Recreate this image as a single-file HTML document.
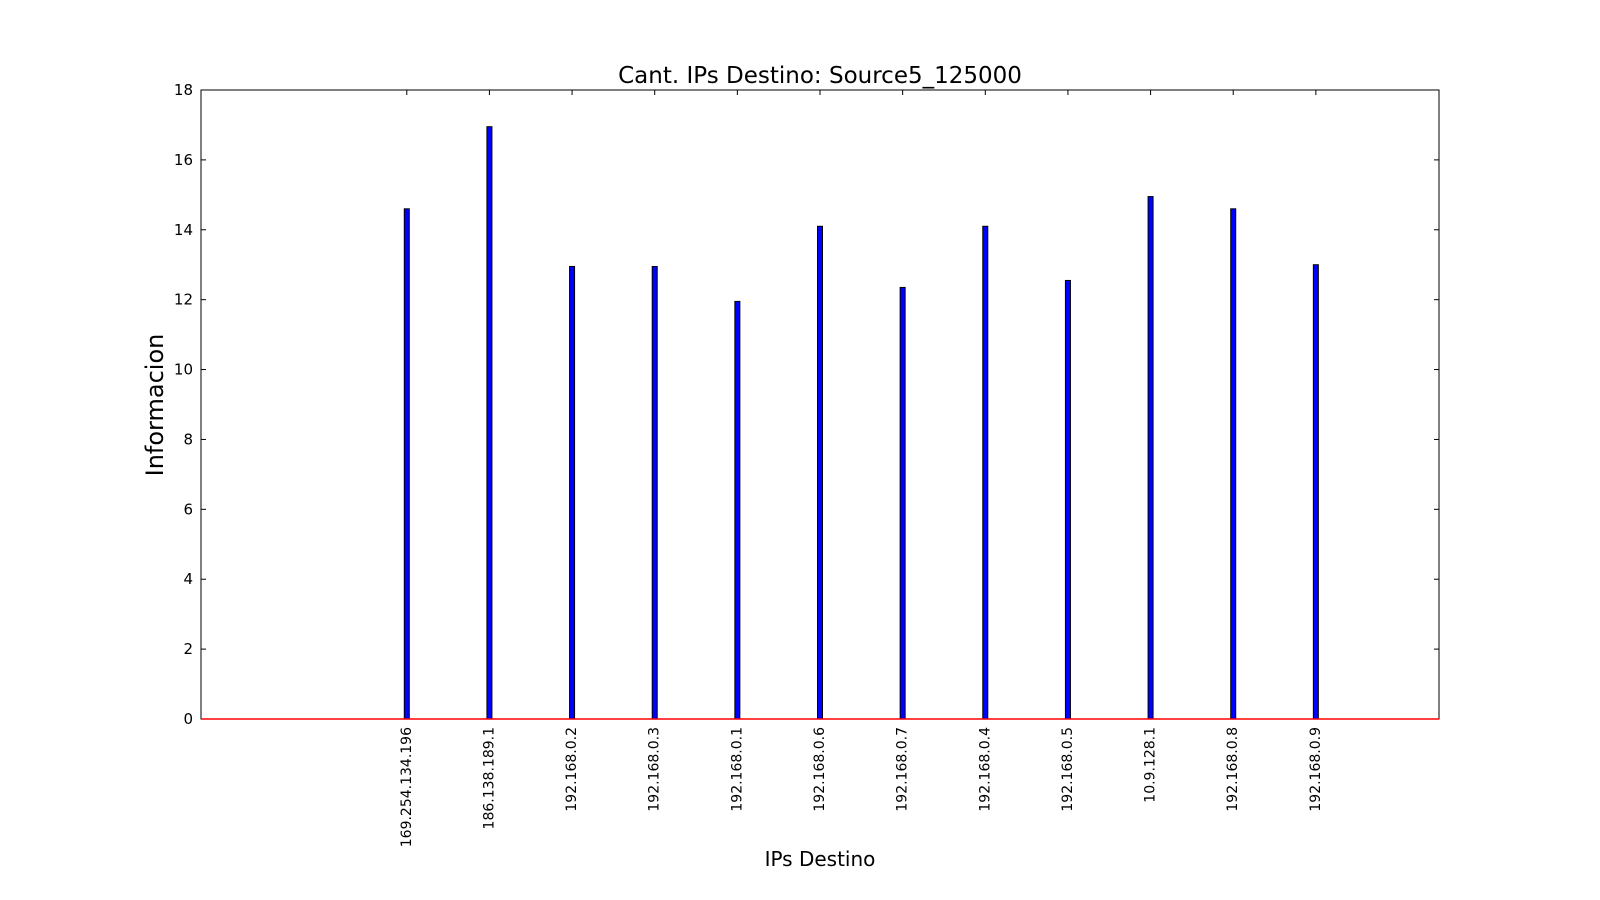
<!DOCTYPE html>
<html><head><meta charset="utf-8"><style>
body{margin:0;background:#fff;}
svg{display:block;font-family:"DejaVu Sans","Liberation Sans",sans-serif;}
</style></head><body>
<svg id="c" width="1600" height="900"></svg>
<script>
const categories=["169.254.134.196","186.138.189.1","192.168.0.2","192.168.0.3","192.168.0.1","192.168.0.6","192.168.0.7","192.168.0.4","192.168.0.5","10.9.128.1","192.168.0.8","192.168.0.9"];
const values=[14.6,16.95,12.95,12.95,11.95,14.1,12.35,14.1,12.55,14.95,14.6,13.0];
const yTicks=[0,2,4,6,8,10,12,14,16,18];
const NS="http://www.w3.org/2000/svg";
const svg=document.getElementById('c');
const L=201,R=1439,T=90,B=719;
const xMin=-2.49,xMax=12.49;
function xs(i){return L+(i-xMin)/(xMax-xMin)*(R-L);}
function ys(v){return B-(v-0)/(18-0)*(B-T);}
function el(tag,attrs,txt){const e=document.createElementNS(NS,tag);for(const k in attrs)e.setAttribute(k,attrs[k]);if(txt!==undefined)e.textContent=txt;svg.appendChild(e);return e;}
let e;
e=el('rect',{x:L,y:T,width:R-L,height:B-T,fill:'#fff',stroke:'#000','stroke-width':1});


yTicks.forEach(v=>{
 const y=ys(v);
 e=el('line',{x1:L,x2:L+5,y1:y,y2:y,stroke:'#000'});
 
 
 el('line',{x1:R-5,x2:R,y1:y,y2:y,stroke:'#000'});
 e=el('text',{x:L-8,y:y+5,'text-anchor':'end','font-size':15},String(v));
 
 
});
categories.forEach((c,i)=>{
 const x=xs(i);
 el('line',{x1:x,x2:x,y1:B,y2:B-5,stroke:'#000'});
 el('line',{x1:x,x2:x,y1:T,y2:T+5,stroke:'#000'});
 const y=ys(values[i]);
 e=el('rect',{x:x-2.5,y:y,width:5,height:B-y,fill:'#0000ff',stroke:'#000','stroke-width':1});
 
 
 e=el('text',{x:0,y:0,'text-anchor':'end','font-size':14,transform:`translate(${x+4},${B+8}) rotate(-90)`},c);
 
 
});
e=el('line',{x1:L,x2:R,y1:B,y2:B,stroke:'#ff0000','stroke-width':1.5});


e=el('text',{x:820,y:83,'text-anchor':'middle','font-size':23},'Cant. IPs Destino: Source5_125000');


e=el('text',{x:820,y:866,'text-anchor':'middle','font-size':20},'IPs Destino');


e=el('text',{x:0,y:0,'text-anchor':'middle','font-size':24,transform:'translate(163,405) rotate(-90)'},'Informacion');


</script>
</body></html>
